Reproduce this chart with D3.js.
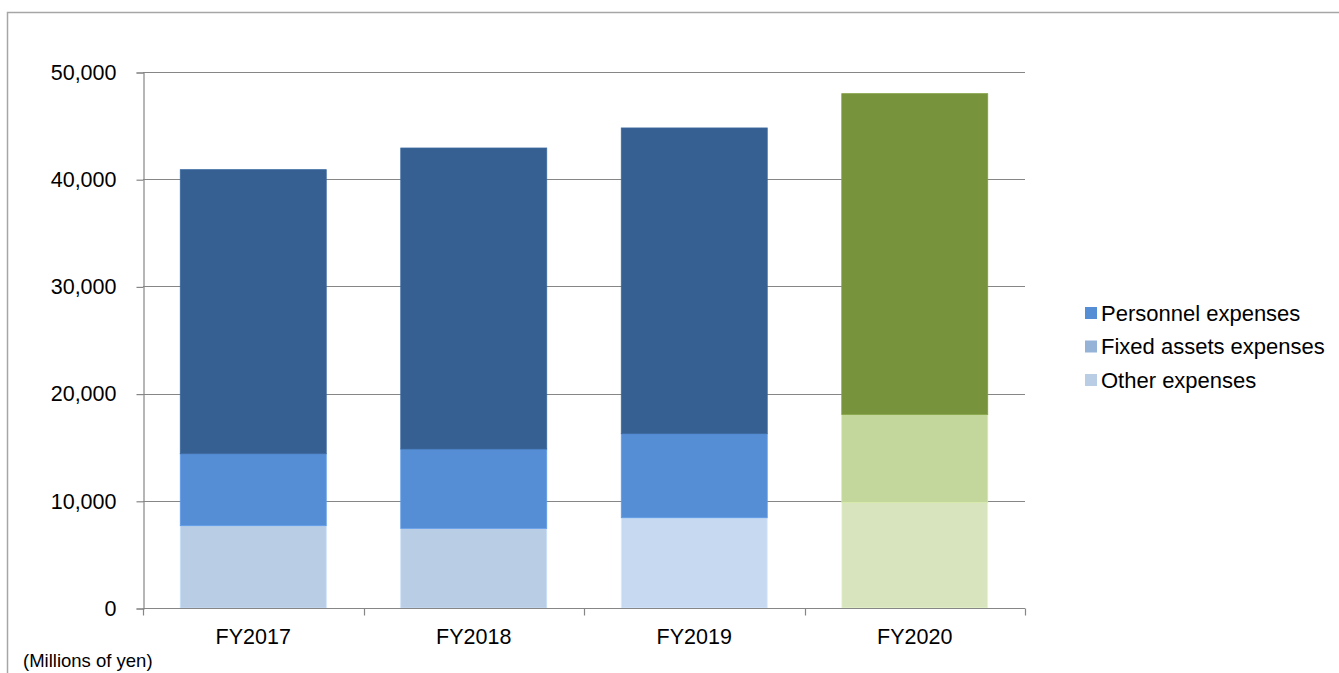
<!DOCTYPE html>
<html>
<head>
<meta charset="utf-8">
<script src="https://cdn.jsdelivr.net/npm/d3@7"></script>
<style>
  html, body { margin: 0; padding: 0; background: #fff; }
  svg { display: block; font-family: "Liberation Sans", Arial, sans-serif; }
</style>
</head>
<body>
<svg id="chart" width="1339" height="673"></svg>
<script>
// Operating expenses by fiscal year (millions of yen)
const categories = ["FY2017", "FY2018", "FY2019", "FY2020"];
const otherExpenses = [7680, 7430, 8420, 9850];
const fixedAssetsExpenses = [6710, 7400, 7840, 8210];
const personnelExpenses = [26500, 28080, 28520, 29920];
const yTicks = [0, 10000, 20000, 30000, 40000, 50000];
const seriesNames = ["Personnel expenses", "Fixed assets expenses", "Other expenses"];

// Segment fills per year: [other, fixed assets, personnel]
const segmentColors = {
  FY2017: ["#B9CDE5", "#558ED5", "#366092"],
  FY2018: ["#B9CDE5", "#558ED5", "#366092"],
  FY2019: ["#C6D9F1", "#558ED5", "#366092"],
  FY2020: ["#D7E4BD", "#C3D69B", "#77933C"]
};
const legendColors = ["#558ED5", "#95B3D7", "#B9CDE5"];

const rows = categories.map((c, i) => ({
  year: c,
  other: otherExpenses[i],
  fixed: fixedAssetsExpenses[i],
  personnel: personnelExpenses[i]
}));
const keys = ["other", "fixed", "personnel"];
const stacked = d3.stack().keys(keys)(rows);

const svg = d3.select("#chart");

// Outer frame
svg.append("rect")
  .attr("x", 7.5).attr("y", 12.5)
  .attr("width", 1340).attr("height", 700)
  .attr("fill", "none")
  .attr("stroke", "#A6A6A6")
  .attr("stroke-width", 1.5);

const plot = { left: 143, right: 1025, top: 72, bottom: 608 };

const x = d3.scaleBand()
  .domain(categories)
  .range([plot.left, plot.right])
  .paddingInner(0.338)
  .paddingOuter(0.169);

const y = d3.scaleLinear()
  .domain([0, 50000])
  .range([plot.bottom, plot.top]);

// Horizontal gridlines
svg.append("g")
  .selectAll("line")
  .data(yTicks.filter(t => t > 0))
  .join("line")
  .attr("x1", plot.left).attr("x2", plot.right)
  .attr("y1", d => Math.round(y(d)) + 0.5)
  .attr("y2", d => Math.round(y(d)) + 0.5)
  .attr("stroke", "#868686")
  .attr("stroke-width", 1.2);

// Stacked bars
stacked.forEach((layer, li) => {
  svg.append("g")
    .selectAll("rect")
    .data(layer)
    .join("rect")
    .attr("x", d => x(d.data.year))
    .attr("width", x.bandwidth())
    .attr("y", d => y(d[1]))
    .attr("height", d => y(d[0]) - y(d[1]))
    .attr("fill", d => segmentColors[d.data.year][li])
    .attr("stroke", d => d3.color(segmentColors[d.data.year][li]).brighter(0.25))
    .attr("stroke-width", 0.8);
});

// Y axis
const yAxis = d3.axisLeft(y)
  .tickValues(yTicks)
  .tickSize(7)
  .tickPadding(20)
  .tickFormat(d3.format(","));
const gy = svg.append("g")
  .attr("transform", `translate(${plot.left + 0.5},0.5)`)
  .call(yAxis);
gy.select(".domain").attr("stroke", "#868686").attr("stroke-width", 1.2);
gy.selectAll(".tick line").attr("stroke", "#868686").attr("stroke-width", 1.2);
gy.selectAll(".tick text")
  .attr("fill", "#000")
  .style("font-size", "21.5px")
  .style("font-family", "'Liberation Sans', Arial, sans-serif");

// X axis: category boundary ticks, labels centered under bars
const gx = svg.append("g").attr("transform", `translate(0,${plot.bottom + 0.5})`);
gx.append("line")
  .attr("x1", plot.left).attr("x2", plot.right)
  .attr("y1", 0).attr("y2", 0)
  .attr("stroke", "#868686").attr("stroke-width", 1.2);
const step = x.step();
const boundaries = d3.range(categories.length + 1).map(i => plot.left + i * step);
gx.selectAll("line.tick")
  .data(boundaries)
  .join("line")
  .attr("class", "tick")
  .attr("x1", d => Math.round(d) + 0.5).attr("x2", d => Math.round(d) + 0.5)
  .attr("y1", 0).attr("y2", 7)
  .attr("stroke", "#868686").attr("stroke-width", 1.2);
gx.selectAll("text")
  .data(categories)
  .join("text")
  .attr("x", d => x(d) + x.bandwidth() / 2)
  .attr("y", 35)
  .attr("text-anchor", "middle")
  .style("font-size", "21.5px")
  .attr("fill", "#000")
  .text(d => d);

// Unit note
svg.append("text")
  .attr("x", 23).attr("y", 667)
  .style("font-size", "18.5px")
  .attr("fill", "#000")
  .text("(Millions of yen)");

// Legend
const legend = svg.append("g").attr("transform", "translate(1085,313)");
const items = legend.selectAll("g")
  .data(seriesNames)
  .join("g")
  .attr("transform", (d, i) => `translate(0,${i * 33.5})`);
items.append("rect")
  .attr("x", 0).attr("y", -6)
  .attr("width", 12).attr("height", 12)
  .attr("fill", (d, i) => legendColors[i]);
items.append("text")
  .attr("x", 16).attr("y", 0)
  .attr("dy", "0.36em")
  .style("font-size", "22px")
  .attr("fill", "#000")
  .text(d => d);
</script>
</body>
</html>
